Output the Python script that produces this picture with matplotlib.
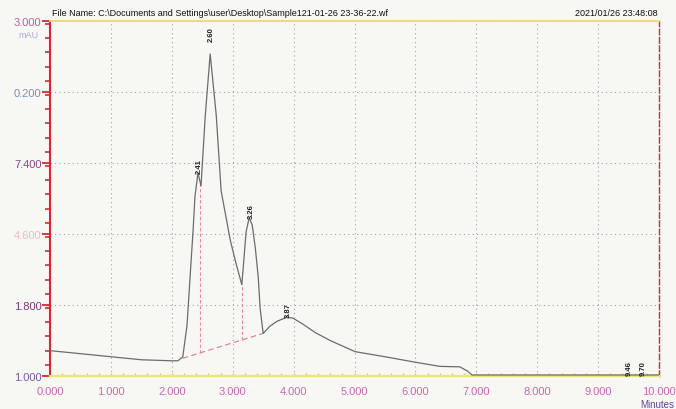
import numpy as np
import matplotlib
matplotlib.use("Agg")
import matplotlib.pyplot as plt
from matplotlib.ticker import MultipleLocator

#######################
###   Data          ###
#######################

# chromatogram trace (minutes, mAU)
times = [0.00, 0.50, 1.00, 1.50, 2.00, 2.10, 2.18, 2.25, 2.30, 2.35, 2.38, 2.43,
         2.48, 2.55, 2.63, 2.73, 2.81, 2.96, 3.05, 3.15, 3.22, 3.27, 3.32, 3.37,
         3.42, 3.45, 3.50, 3.61, 3.73, 3.89, 3.99, 4.15, 4.35, 4.60, 5.01, 5.50, 5.96,
         6.40, 6.73, 6.85, 6.93, 8.00, 9.00, 10.00]
signal = [0.00, -0.12, -0.24, -0.36, -0.40, -0.40, -0.25, 1.00, 2.90, 4.76, 6.08, 7.00,
          6.50, 9.28, 11.70, 9.28, 6.30, 4.36, 3.48, 2.60, 4.68, 5.24, 4.96, 4.08,
          2.88, 1.68, 0.68, 0.96, 1.16, 1.32, 1.28, 1.05, 0.72, 0.40, -0.04, -0.24, -0.44,
          -0.62, -0.64, -0.80, -0.96, -0.96, -0.96, -0.96]

# integration marks
peak_times = [2.41, 2.60, 3.26, 3.87, 9.46, 9.70]
peak_labels = ["2.41", "2.60", "3.26", "3.87", "9.46", "9.70"]
base_times = [2.18, 3.50]
base_values = [-0.30, 0.68]
drop_times = [2.46, 3.15]

# axis ticks
x_ticks = [0, 1, 2, 3, 4, 5, 6, 7, 8, 9, 10]
x_labels = ["0.000", "1.000", "2.000", "3.000", "4.000", "5.000",
            "6.000", "7.000", "8.000", "9.000", "10.000"]
y_ticks = [-1.0, 1.8, 4.6, 7.4, 10.2, 13.0]
y_labels = ["1.000", "1.800", "4.600", "7.400", "0.200", "3.000"]  # as printed (truncated)
y_label_colors = ["#7a5aa8", "#7e3a78", "#f2b8c8", "#8e4486", "#7f8cb8", "#c45aa6"]

file_name = r"File Name: C:\Documents and Settings\user\Desktop\Sample121-01-26 23-36-22.wf"
stamp = "2021/01/26 23:48:08"

#######################
###   Plotting      ###
#######################

plt.rcParams['font.family'] = ['Liberation Sans', 'DejaVu Sans']

fig = plt.figure(figsize=(6.76, 4.10), dpi=100, facecolor='#f7f7f4')
ax = fig.add_axes([50/676, 1 - 377/410, 609/676, 355/410])
ax.set_facecolor('#f7f7f4')

ax.plot(times, signal, color='#6c6c6c', lw=0.9, zorder=3)

# integration baseline + drop lines
ax.plot(base_times, base_values, color='#e8788a', lw=0.8, ls=(0, (5, 3)), zorder=2)
for t in drop_times:
    yb = np.interp(t, base_times, base_values)
    yt = np.interp(t, times, signal)
    ax.plot([t, t], [yb, yt], color='#ec8a98', lw=0.8, ls=(0, (3, 2)), zorder=2)

# peak labels
offsets = {"2.60": 13}
for t, lab in zip(peak_times, peak_labels):
    tt = np.array(times)
    win = (tt >= t - 0.08) & (tt <= t + 0.08)
    top = max(np.interp(t, times, signal), max(np.array(signal)[win]) if win.any() else -99)
    ax.annotate(lab, (t, top), xytext=(3, offsets.get(lab, 0)), textcoords='offset pixels',
                rotation=90, ha='center', va='bottom', fontsize=5.5, color='#222222',
                fontweight='bold', zorder=4)

ax.set_xlim(0, 10)
ax.set_ylim(-1, 13)
ax.set_xticks(x_ticks)
ax.set_xticklabels(x_labels)
ax.set_yticks(y_ticks)
ax.set_yticklabels(y_labels)
ax.xaxis.set_minor_locator(MultipleLocator(0.2))
ax.yaxis.set_minor_locator(MultipleLocator(0.56))

ax.grid(True, color='#a4a4a4', lw=0.8, ls=(0, (1, 3)))

ax.tick_params(axis='y', which='major', direction='out', length=6, width=1.3,
               color='#d42a30', pad=0, labelsize=8)
ax.tick_params(axis='y', which='minor', direction='out', length=3.5, width=1.2, color='#d42a30')
ax.tick_params(axis='x', which='both', direction='in', length=2, width=1,
               color='#d8cf50', pad=7, labelsize=8, labelcolor='#d066b4')
for lbl, c in zip(ax.get_yticklabels(), y_label_colors):
    lbl.set_color(c)

ax.spines['left'].set_color('#d42a30')
ax.spines['left'].set_linewidth(1.5)
ax.spines['bottom'].set_color('#eee872')
ax.spines['bottom'].set_linewidth(1.6)
ax.spines['top'].set_color('#f0d868')
ax.spines['top'].set_linewidth(1.3)
ax.spines['right'].set_color('#d42a30')
ax.spines['right'].set_linewidth(1.0)
ax.spines['right'].set_linestyle((0, (4, 2)))

fig.text(52/676, 1 - 14/410, file_name, fontsize=6.5, color='#111111', va='center')
fig.text(658/676, 1 - 14/410, stamp, fontsize=6.5, color='#111111', va='center', ha='right')
fig.text(28/676, 1 - 36/410, "mAU", fontsize=6.5, color='#b4a8d4', va='center', ha='center')
fig.text(640/676, 1 - 405/410, "Minutes", fontsize=7, color='#6044a4', va='center', ha='left')

plt.savefig("out.png", dpi=100, facecolor=fig.get_facecolor())
